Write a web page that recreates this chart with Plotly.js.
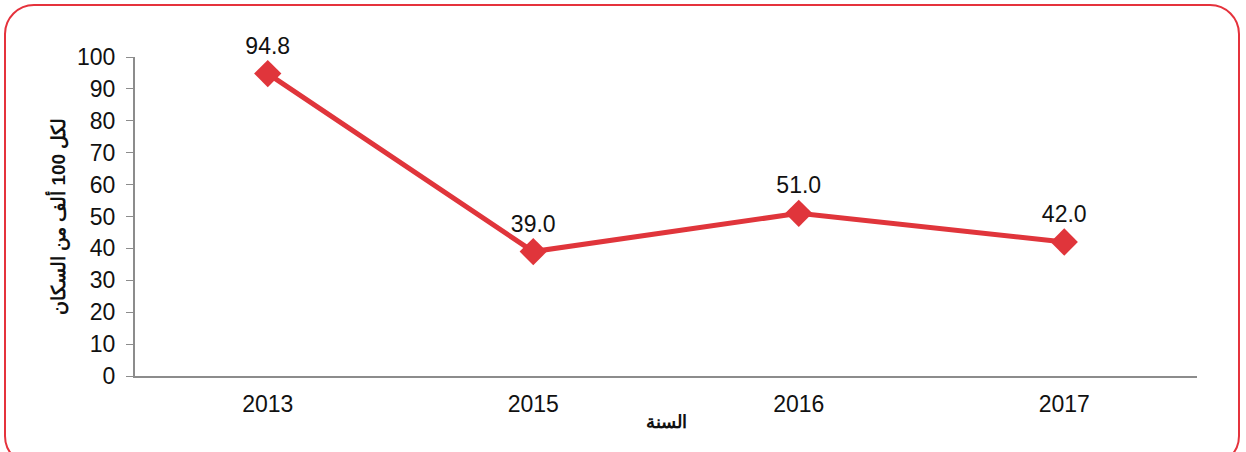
<!DOCTYPE html>
<html><head><meta charset="utf-8">
<script src="https://cdn.plot.ly/plotly-3.0.1.min.js"></script>
<style>
html,body{margin:0;padding:0;background:#fff;overflow:hidden;}
#frame{position:absolute;left:4px;top:4px;width:1236px;height:462px;border:2px solid #e5323c;border-radius:30px;box-sizing:border-box;}
#chart{position:absolute;left:0;top:0;width:1246px;height:452px;}
</style></head>
<body>
<div id="frame"></div>
<div id="chart"></div>
<script>
const years = ['2013', '2015', '2016', '2017'];
const rates = [94.8, 39.0, 51.0, 42.0];
const labels = rates.map(v => v.toFixed(1));
const yTicks = [0,10,20,30,40,50,60,70,80,90,100];

Plotly.newPlot('chart', [{
  type: 'scatter',
  mode: 'lines+markers+text',
  x: years,
  y: rates,
  text: labels,
  textposition: 'top center',
  textfont: {family: 'Liberation Sans, Arial, sans-serif', size: 23, color: '#111'},
  line: {color: '#e0353b', width: 5},
  marker: {symbol: 'diamond', size: 21, color: '#e0353b'},
  cliponaxis: false,
  hoverinfo: 'skip'
}], {
  width: 1246, height: 452,
  margin: {l: 135, r: 49, t: 57, b: 76},
  paper_bgcolor: 'rgba(0,0,0,0)',
  plot_bgcolor: 'rgba(0,0,0,0)',
  showlegend: false,
  xaxis: {
    type: 'category', range: [-0.5, 3.5],
    showline: true, linecolor: '#8c8c8c', linewidth: 2,
    ticks: '', showgrid: false, zeroline: false,
    ticklabelstandoff: 6,
    tickfont: {family: 'Liberation Sans, Arial, sans-serif', size: 23, color: '#111'},
    title: {text: '<b>السنة</b>', font: {family: 'Liberation Sans, Arial, sans-serif', size: 18, color: '#111'}, standoff: 0}
  },
  yaxis: {
    range: [0, 100], tickvals: yTicks,
    showline: true, linecolor: '#8c8c8c', linewidth: 2,
    ticks: 'outside', ticklen: 7, tickcolor: '#8c8c8c', tickwidth: 1,
    showgrid: false, zeroline: false,
    ticklabelstandoff: 6,
    tickfont: {family: 'Liberation Sans, Arial, sans-serif', size: 23, color: '#111'},
    title: {text: '<b>لكل 100 ألف من السكان</b>', font: {family: 'Liberation Sans, Arial, sans-serif', size: 19, color: '#111'}, standoff: 6}
  }
}, {displayModeBar: false, staticPlot: true});
</script>
</body></html>
